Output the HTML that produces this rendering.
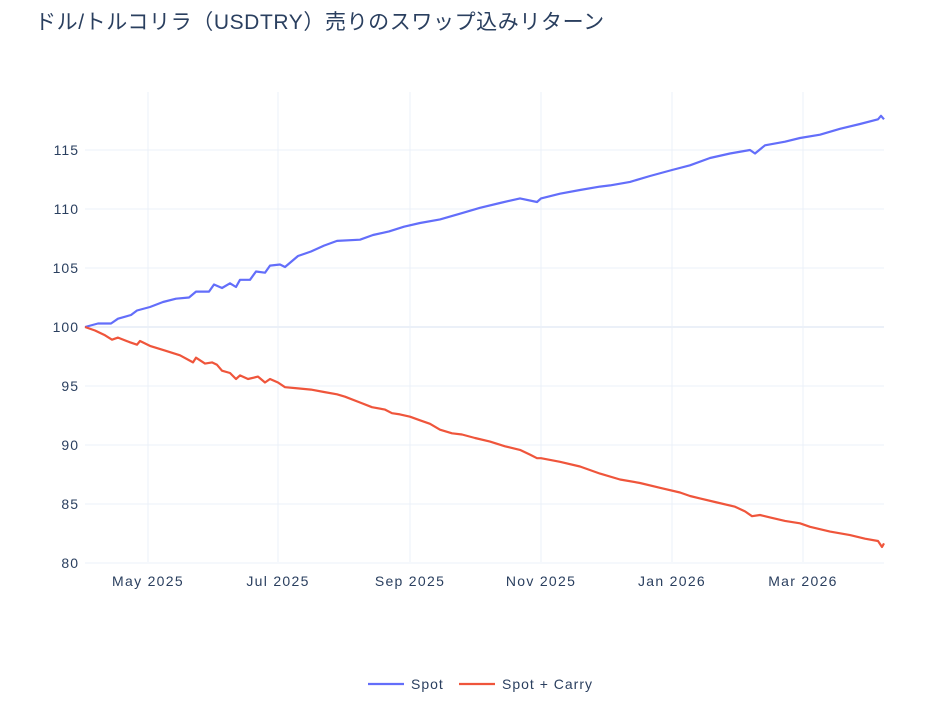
<!DOCTYPE html>
<html><head><meta charset="utf-8"><style>
body{margin:0;background:#fff;}
svg text{font-family:"Liberation Sans","Noto Sans CJK JP",sans-serif;fill:#2a3f5f;}
</style></head><body>
<svg width="946" height="705" xmlns="http://www.w3.org/2000/svg">
<rect width="946" height="705" fill="#fff"/>
<text x="35" y="29" font-size="21" letter-spacing="0.6">ドル/トルコリラ（USDTRY）売りのスワップ込みリターン</text>
<g stroke="#ebf0f8" stroke-width="1">
<line x1="148" y1="92" x2="148" y2="562"/><line x1="278" y1="92" x2="278" y2="562"/>
<line x1="410" y1="92" x2="410" y2="562"/><line x1="541" y1="92" x2="541" y2="562"/>
<line x1="672" y1="92" x2="672" y2="562"/><line x1="803" y1="92" x2="803" y2="562"/>
<line x1="85" y1="150" x2="884" y2="150"/><line x1="85" y1="209" x2="884" y2="209"/>
<line x1="85" y1="268" x2="884" y2="268"/><line x1="85" y1="386" x2="884" y2="386"/>
<line x1="85" y1="445" x2="884" y2="445"/><line x1="85" y1="504" x2="884" y2="504"/>
<line x1="85" y1="563" x2="884" y2="563"/>
</g>
<line x1="85" y1="327" x2="884" y2="327" stroke="#ebf0f8" stroke-width="2"/>
<g font-size="14" text-anchor="end" letter-spacing="1">
<text x="79" y="155">115</text><text x="79" y="214">110</text><text x="79" y="273">105</text>
<text x="79" y="332">100</text><text x="79" y="391">95</text><text x="79" y="450">90</text>
<text x="79" y="509">85</text><text x="79" y="568">80</text>
</g>
<g font-size="14" text-anchor="middle" letter-spacing="1.3">
<text x="148" y="586">May 2025</text><text x="278" y="586">Jul 2025</text>
<text x="410" y="586">Sep 2025</text><text x="541" y="586">Nov 2025</text>
<text x="672" y="586">Jan 2026</text><text x="803" y="586">Mar 2026</text>
</g>
<polyline fill="none" stroke="#636efa" stroke-width="2.2" stroke-linejoin="round" points="85,327 98,323.5 111,323.5 118,318.7 131,315 137,310.5 150,307 163,302 176,298.7 189,297.5 196,291.6 209,291.6 214,284.5 222,288 230,283.3 236,287 240,279.8 250,279.8 256,271.5 265,272.7 270,265.6 280,264.5 285,267 298,256 311,251.5 324,245.6 337,240.9 360,239.7 373,235 389,231.4 404,226.7 420,223 440,219.4 460,213.7 480,207.8 500,203 520,198.4 537,202 541,198.4 560,193.7 580,190 600,186.6 610,185.4 630,181.9 650,176 672,170 690,165.3 710,158 730,153.5 750,150 755,153.5 765,145.3 785,141.7 800,138 820,134.7 840,128.8 860,124 878,119.3 881,115.8 884,119.3"/>
<polyline fill="none" stroke="#ef553b" stroke-width="2.2" stroke-linejoin="round" points="85,327 95,330.5 105,335.3 112,339.7 118,337.6 130,342.3 137,344.7 140,341 150,345.9 165,350.6 180,355.3 193,362.4 196,357.7 205,363.6 212,362.4 217,364.8 222,370.7 230,373 236,379 240,375.4 248,379 258,376.6 265,382.5 270,379 278,382.5 285,387.2 298,388.4 311,389.6 324,392 337,394.3 345,396.7 360,402.5 372,407.2 385,409.6 392,413.2 400,414.4 410,416.7 420,420.3 430,423.8 440,429.7 452,433.3 462,434.5 475,438 490,441.6 505,446.3 520,449.9 530,454.6 537,458.2 541,458.2 560,461.8 580,466.5 600,473.6 620,479.5 640,483 660,487.8 680,492.5 690,496 700,498.4 715,502 735,506.7 745,511.4 752,516.2 760,515 770,517.4 785,520.9 800,523.3 810,526.8 830,531.6 850,535.1 865,538.7 878,541 882,547 884,543.4"/>
<line x1="368" y1="684" x2="404" y2="684" stroke="#636efa" stroke-width="2.2"/>
<text x="411" y="689" font-size="14" letter-spacing="1">Spot</text>
<line x1="459" y1="684" x2="495" y2="684" stroke="#ef553b" stroke-width="2.2"/>
<text x="502" y="689" font-size="14" letter-spacing="1">Spot + Carry</text>
</svg>
</body></html>
